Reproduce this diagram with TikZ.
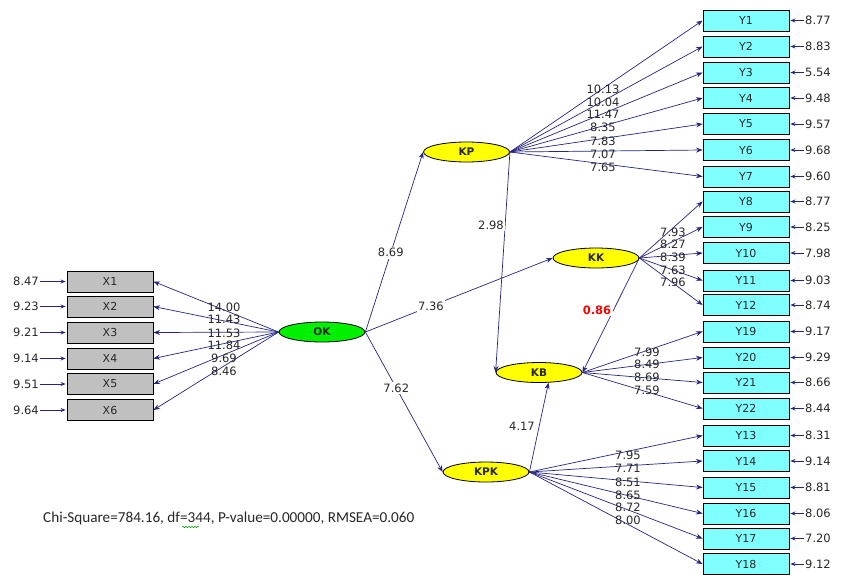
\documentclass[tikz,border=0pt]{standalone}
\usepackage{fontspec}
\setmainfont{DejaVu Sans}
\newfontfamily\calib{Carlito}
\usetikzlibrary{arrows.meta,shapes.geometric,decorations.pathmorphing}
\definecolor{navy}{RGB}{38,38,130}
\definecolor{ycyan}{RGB}{128,255,255}
\definecolor{xgray}{RGB}{192,192,192}
\definecolor{lyellow}{RGB}{255,255,0}
\definecolor{lgreen}{RGB}{0,240,0}
\definecolor{txt}{RGB}{40,40,40}
\begin{document}
\begin{tikzpicture}[x=1pt,y=-1pt,
  lat/.style={ellipse,draw=black,line width=0.8pt,fill=lyellow,minimum width=86pt,minimum height=20pt,inner sep=0pt,font=\fontsize{10.5}{12}\selectfont\bfseries,text=txt},
  ybox/.style={rectangle,draw=black,line width=0.9pt,fill=ycyan,minimum width=86pt,minimum height=21pt,inner sep=0pt,font=\fontsize{11}{12}\selectfont,text=txt},
  xbox/.style={ybox,fill=xgray},
  err/.style={inner sep=1pt,font=\fontsize{11.5}{12}\selectfont,text=txt},
  lab/.style={inner sep=0.5pt,font=\fontsize{11.5}{12}\selectfont,text=txt},
  wlab/.style={lab,fill=white,inner sep=1.5pt},
  path/.style={draw=navy,line width=0.7pt,-{Stealth[length=6.5pt,width=5pt]}},
  epath/.style={draw=navy,line width=1pt,-{Stealth[length=5pt,width=4pt]},shorten >=1pt}]
\useasboundingbox (0,0) rectangle (846,574);
\fill[white] (0,0) rectangle (846,574);

% latent variables
\node[lat,fill=lgreen] (OK) at (322,332) {OK};
\node[lat] (KP) at (466.5,152) {KP};
\node[lat] (KK) at (596,258) {KK};
\node[lat] (KB) at (539,372.5) {KB};
\node[lat] (KPK) at (486,472) {KPK};

% Y indicators
\foreach \n/\y/\e in {1/20.5/8.77,2/46.5/8.83,3/72.5/5.54,4/98/9.48,5/124/9.57,6/150/9.68,7/176.5/9.60,
  8/201.5/8.77,9/227/8.25,10/253/7.98,11/280.5/9.03,12/305/8.74,
  19/331.5/9.17,20/357.5/9.29,21/382.5/8.66,22/408.5/8.44,
  13/435.5/8.31,14/461/9.14,15/487.5/8.81,16/513.5/8.06,17/538.5/7.20,18/564/9.12}{
  \node[ybox] (Y\n) at (746,\y) {Y\n};
  \node[err,anchor=west] (eY\n) at (804,\y) {\e};
  \draw[epath] (eY\n) -- (Y\n);
}

% X indicators
\foreach \n/\y/\e in {1/281.5/8.47,2/306.5/9.23,3/332.5/9.21,4/358.5/9.14,5/384/9.51,6/410/9.64}{
  \node[xbox] (X\n) at (110,\y) {X\n};
  \node[err,anchor=east] (eX\n) at (40,\y) {\e};
  \draw[epath] (eX\n) -- (X\n);
  \draw[path] (OK.west) -- (X\n.east);
}

% loadings
\foreach \n in {1,...,7}{\draw[path] (KP.east) -- (Y\n.west);}
\foreach \n in {8,...,12}{\draw[path] (KK.east) -- (Y\n.west);}
\foreach \n in {19,...,22}{\draw[path] (KB.east) -- (Y\n.west);}
\foreach \n in {13,...,18}{\draw[path] (KPK.east) -- (Y\n.west);}

% structural paths
\draw[path] (OK.east) -- node[wlab,pos=0.44] {8.69} (KP.west);
\draw[path] (OK.east) -- node[wlab,pos=0.35] {7.36} (KK.west);
\draw[path] (OK.east) -- node[wlab,pos=0.4] {7.62} (KPK.west);
\draw[path] (KP.east) -- (KB.west);
\node[wlab] (l298) at (491,225) {2.98};
\draw[path] (KK.east) -- (KB.east);
\node[wlab,text=red,font=\fontsize{11.5}{12}\selectfont\bfseries] (l086) at (597,310) {0.86};
\draw[path] (KPK.east) -- (KB.-47);
\node[wlab] (l417) at (522,426) {4.17};

% stacked loading labels
\foreach \v/\y in {10.13/89,10.04/102,11.47/114,8.35/127,7.83/141,7.07/154,7.65/167}{\node[lab] at (603,\y) {\v};}
\foreach \v/\y in {7.93/232,8.27/244,8.39/257,7.63/270,7.96/282}{\node[lab] at (673,\y) {\v};}
\foreach \v/\y in {7.99/352,8.49/364,8.69/377,7.59/390}{\node[lab] at (647,\y) {\v};}
\foreach \v/\y in {7.95/455,7.71/468,8.51/482,8.65/495,8.72/507,8.00/520}{\node[lab] at (628,\y) {\v};}
\foreach \v/\y in {14.00/307,11.43/319,11.53/333,11.84/345,9.69/358,8.46/371}{\node[lab] at (224,\y) {\v};}

% fit statistics
\node[anchor=west,inner sep=0pt,font=\calib\fontsize{15.2}{17}\selectfont,text=txt] (fit) at (43,518) {Chi-Square=784.16, df=344, P-value=0.00000, RMSEA=0.060};
\draw[green!60!black,line width=0.5pt,decorate,decoration={snake,amplitude=0.8pt,segment length=3pt}] (182,527) -- (199,527);
\end{tikzpicture}
\end{document}
